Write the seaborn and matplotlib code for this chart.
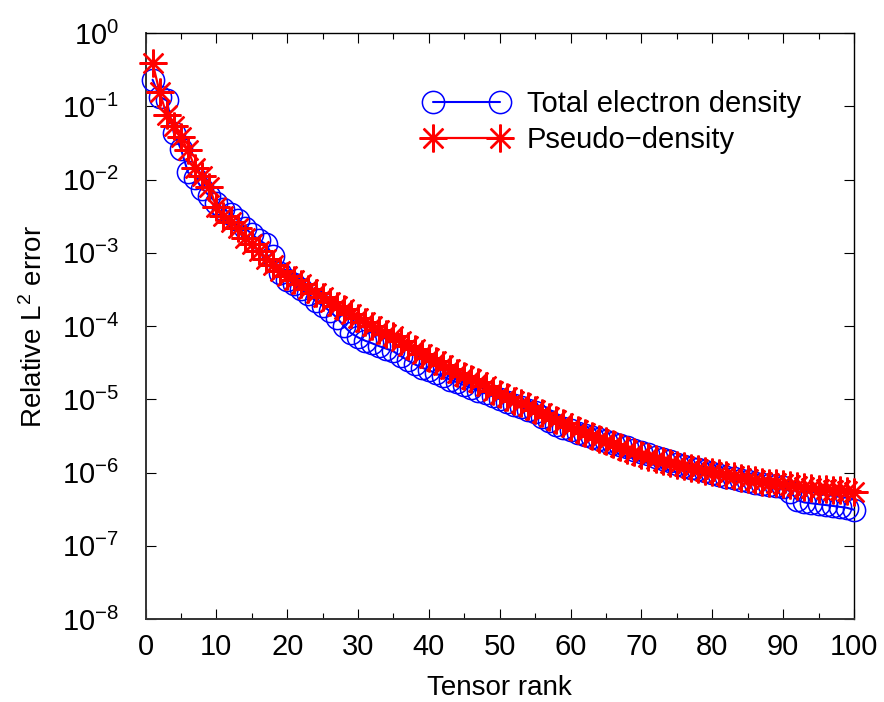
import numpy as np
import pandas as pd
import matplotlib
matplotlib.use("Agg")
import matplotlib.pyplot as plt
import matplotlib.ticker as mticker
import seaborn as sns

# ---- data ----
rank = list(range(1, 101))

total_density = [
    2.3e-1, 1.35e-1, 1.2e-1, 4.3e-2, 2.6e-2, 1.25e-2, 1.05e-2, 7.5e-3, 6.0e-3, 4.8e-3,
    4.0e-3, 3.4e-3, 2.8e-3, 2.2e-3, 1.8e-3, 1.5e-3, 1.3e-3, 9.0e-4, 5.3e-4, 4.3e-4,
    3.7e-4, 3.2e-4, 2.7e-4, 2.2e-4, 1.9e-4, 1.6e-4, 1.3e-4, 1.0e-4, 8.0e-5, 7.0e-5,
    6.3e-5, 5.8e-5, 5.3e-5, 4.9e-5, 4.5e-5, 3.9e-5, 3.4e-5, 3.0e-5, 2.7e-5, 2.5e-5,
    2.25e-5, 2.05e-5, 1.85e-5, 1.7e-5, 1.55e-5, 1.42e-5, 1.3e-5, 1.2e-5, 1.1e-5, 1.0e-5,
    9.2e-6, 8.4e-6, 7.8e-6, 7.2e-6, 6.6e-6, 5.8e-6, 5.0e-6, 4.5e-6, 4.1e-6, 3.8e-6,
    3.5e-6, 3.3e-6, 3.1e-6, 2.9e-6, 2.7e-6, 2.5e-6, 2.35e-6, 2.2e-6, 2.05e-6, 1.9e-6,
    1.78e-6, 1.65e-6, 1.52e-6, 1.42e-6, 1.32e-6, 1.24e-6, 1.16e-6, 1.1e-6, 1.04e-6, 9.8e-7,
    9.3e-7, 8.8e-7, 8.4e-7, 8.0e-7, 7.6e-7, 7.2e-7, 6.9e-7, 6.7e-7, 6.5e-7, 6.3e-7,
    5.5e-7, 4.2e-7, 3.9e-7, 3.8e-7, 3.7e-7, 3.6e-7, 3.5e-7, 3.4e-7, 3.3e-7, 3.1e-7,
]

pseudo_density = [
    3.9e-1, 1.55e-1, 7.6e-2, 5.3e-2, 3.8e-2, 2.5e-2, 1.45e-2, 1.1e-2, 8.0e-3, 4.2e-3,
    3.2e-3, 2.6e-3, 2.2e-3, 1.6e-3, 1.3e-3, 1.05e-3, 8.2e-4, 6.8e-4, 5.6e-4, 4.8e-4,
    4.2e-4, 3.7e-4, 3.2e-4, 2.8e-4, 2.5e-4, 2.1e-4, 1.9e-4, 1.7e-4, 1.45e-4, 1.3e-4,
    1.15e-4, 1.0e-4, 8.8e-5, 7.8e-5, 7.2e-5, 6.2e-5, 5.4e-5, 4.8e-5, 4.2e-5, 3.7e-5,
    3.3e-5, 2.9e-5, 2.6e-5, 2.3e-5, 2.1e-5, 1.9e-5, 1.7e-5, 1.5e-5, 1.3e-5, 1.18e-5,
    1.07e-5, 9.6e-6, 8.8e-6, 8.0e-6, 7.2e-6, 6.5e-6, 5.8e-6, 5.2e-6, 4.7e-6, 4.2e-6,
    3.8e-6, 3.5e-6, 3.2e-6, 2.9e-6, 2.7e-6, 2.45e-6, 2.25e-6, 2.05e-6, 1.9e-6, 1.75e-6,
    1.62e-6, 1.52e-6, 1.43e-6, 1.35e-6, 1.28e-6, 1.22e-6, 1.16e-6, 1.11e-6, 1.06e-6, 1.02e-6,
    9.7e-7, 9.3e-7, 8.9e-7, 8.5e-7, 8.1e-7, 7.8e-7, 7.5e-7, 7.3e-7, 7.1e-7, 6.9e-7,
    6.7e-7, 6.5e-7, 6.3e-7, 6.1e-7, 6.0e-7, 5.9e-7, 5.8e-7, 5.7e-7, 5.6e-7, 5.5e-7,
]

series_labels = ["Total electron density", "Pseudo\u2212density"]
x_ticks = list(range(0, 101, 10))

# ---- style ----
sns.set_theme(style="ticks")
plt.rcParams["font.family"] = ["Liberation Sans", "DejaVu Sans"]
plt.rcParams["mathtext.fontset"] = "custom"
plt.rcParams["mathtext.rm"] = "Liberation Sans"
plt.rcParams["mathtext.it"] = "Liberation Sans"
plt.rcParams["mathtext.default"] = "regular"
plt.rcParams["text.color"] = "black"
plt.rcParams["axes.labelcolor"] = "black"
plt.rcParams["xtick.color"] = "black"
plt.rcParams["ytick.color"] = "black"

fig = plt.figure(figsize=(8.84, 7.02), dpi=100)
ax = fig.add_axes([0.1646, 0.1182, 0.8014, 0.8348])

df = pd.DataFrame({"rank": rank, "total": total_density, "pseudo": pseudo_density})

sns.lineplot(data=df, x="rank", y="total", ax=ax, color="blue", lw=1.5,
             marker="o", markersize=16, markerfacecolor="none",
             markeredgecolor="blue", markeredgewidth=1.1,
             label=series_labels[0], clip_on=False, zorder=3)
sns.lineplot(data=df, x="rank", y="pseudo", ax=ax, color="red", lw=1.6,
             marker=(8, 2, 0), markersize=20, markeredgecolor="red",
             markeredgewidth=1.7,
             label=series_labels[1], clip_on=False, zorder=4)

ax.set_yscale("log")
ax.set_xlim(0, 100)
ax.set_ylim(1e-8, 1e0)
ax.set_xticks(x_ticks)
ax.xaxis.set_minor_locator(mticker.MultipleLocator(5))
ax.yaxis.set_major_locator(mticker.LogLocator(base=10, numticks=20))
ax.yaxis.set_minor_locator(mticker.NullLocator())
ax.xaxis.get_offset_text().set_visible(False)
ax.yaxis.get_offset_text().set_visible(False)

ax.tick_params(axis="both", which="both", direction="in", top=True, right=True,
               colors="black", labelsize=21)
ax.tick_params(axis="both", which="major", length=7, width=0.8)
ax.tick_params(axis="both", which="minor", length=4, width=0.8)
ax.tick_params(axis="y", which="major", pad=19)
ax.tick_params(axis="x", which="major", pad=10)

for side in ["top", "right"]:
    ax.spines[side].set_visible(True)
    ax.spines[side].set_color("black")
    ax.spines[side].set_linewidth(1.0)
for side in ["bottom", "left"]:
    ax.spines[side].set_color("#333333")
    ax.spines[side].set_linewidth(1.4)

ax.set_xlabel("Tensor rank", fontsize=20, labelpad=10)
ax.set_ylabel("Relative L$^2$ error", fontsize=20, labelpad=10)

leg = ax.legend(loc="upper left", bbox_to_anchor=(0.394, 0.903), frameon=False,
                fontsize=21, numpoints=2, handlelength=2.9, handletextpad=0.6,
                labelspacing=0.27, borderpad=0, borderaxespad=0)

sns.despine(ax=ax, top=False, right=False)
fig.savefig("out.png", dpi=100, facecolor="white")
